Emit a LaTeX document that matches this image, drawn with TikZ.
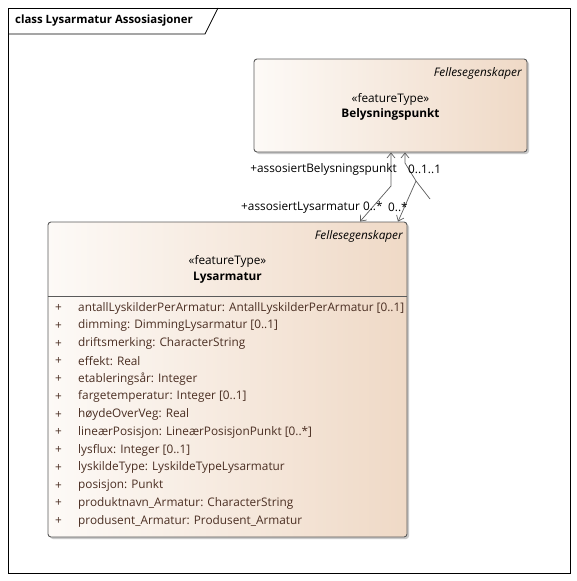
\documentclass[tikz,border=0pt]{standalone}
\usepackage{fontspec}
\setmainfont{Open Sans}
\usetikzlibrary{arrows.meta,calc,shadows}
\definecolor{boxL}{HTML}{FDFAF7}
\definecolor{boxR}{HTML}{EFD9C6}
\definecolor{attr}{HTML}{4A2E22}
\definecolor{edge}{HTML}{5A5A5A}
\tikzset{
  umlbox/.style={draw=edge, line width=0.9pt, rounded corners=3pt, left color=boxL, right color=boxR,
     drop shadow={shadow xshift=2pt, shadow yshift=-2pt, fill=black!35, opacity=0.6}},
  lbl/.style={inner sep=0pt, font=\fontsize{11.8}{13}\selectfont},
  attrtxt/.style={lbl, anchor=west, text=attr},
  conn/.style={draw=edge, line width=0.7pt, >={Straight Barb[length=5pt,width=8pt]}}
}
\begin{document}
\begin{tikzpicture}[x=1pt,y=-1pt]
\useasboundingbox (0,0) rectangle (577,581);
% frame
\draw[line width=1pt] (8,8) rectangle (570,573);
\draw[line width=0.8pt] (8,34) -- (205,34) -- (218,8);
\node[lbl, anchor=west, font=\fontsize{11.4}{13}\selectfont\bfseries] (title) at (15,21) {class Lysarmatur Assosiasjoner};
% Belysningspunkt
\node[umlbox, minimum width=273pt, minimum height=93pt, inner sep=0pt] (bel) at (390.5,105.5) {};
\node[lbl, anchor=east, font=\fontsize{11.8}{13}\selectfont\itshape] (belfs) at (522,73) {Fellesegenskaper};
\node[lbl] (belst) at (390.5,99) {«featureType»};
\node[lbl, font=\fontsize{11.8}{13}\selectfont\bfseries] (belnm) at (390.5,114.5) {Belysningspunkt};
% Lysarmatur
\node[umlbox, minimum width=359pt, minimum height=315pt, inner sep=0pt] (lys) at (227.5,379.5) {};
\node[lbl, anchor=east, font=\fontsize{11.8}{13}\selectfont\itshape] (lysfs) at (403,236) {Fellesegenskaper};
\node[lbl] (lysst) at (227.5,261.5) {«featureType»};
\node[lbl, font=\fontsize{11.8}{13}\selectfont\bfseries] (lysnm) at (227.5,278) {Lysarmatur};
\draw[draw=edge, line width=0.8pt] (lys.west |- 0,296) -- (lys.east |- 0,296);
\foreach \i/\t in {0/{antallLyskilderPerArmatur: AntallLyskilderPerArmatur [0..1]},
  1/{dimming: DimmingLysarmatur [0..1]},
  2/{driftsmerking: CharacterString},
  3/{effekt: Real},
  4/{etableringsår: Integer},
  5/{fargetemperatur: Integer [0..1]},
  6/{høydeOverVeg: Real},
  7/{lineærPosisjon: LineærPosisjonPunkt [0..*]},
  8/{lysflux: Integer [0..1]},
  9/{lyskildeType: LyskildeTypeLysarmatur},
  10/{posisjon: Punkt},
  11/{produktnavn\_Armatur: CharacterString},
  12/{produsent\_Armatur: Produsent\_Armatur}}{
  \node[attrtxt] (p\i) at (55,{308+\i*17.75}) {+};
  \node[attrtxt] (a\i) at (78,{308+\i*17.75}) {\t};
}
% connectors
\coordinate (ajoint) at (391,186);
\coordinate (bjoint) at (416,181);
\coordinate (bup) at (405,163);
\draw[conn, <->] (360,0 |- lys.north) -- (ajoint) -- (391,0 |- bel.south);
\draw[conn, <->] (398,0 |- lys.north) -- (bjoint) -- (bup) -- (405,0 |- bel.south);
\coordinate (bextra) at (430,199);
\draw[conn] (bjoint) -- (bextra);
% labels
\node[lbl, anchor=east] (l1) at (397,169) {+assosiertBelysningspunkt};
\node[lbl, anchor=west] (l2) at (408,169) {0..1..1};
\node[lbl, anchor=west] (l3) at (241,207) {+assosiertLysarmatur 0..*};
\node[lbl, anchor=west] (l4) at (388,207) {0..*};
\end{tikzpicture}
\end{document}
